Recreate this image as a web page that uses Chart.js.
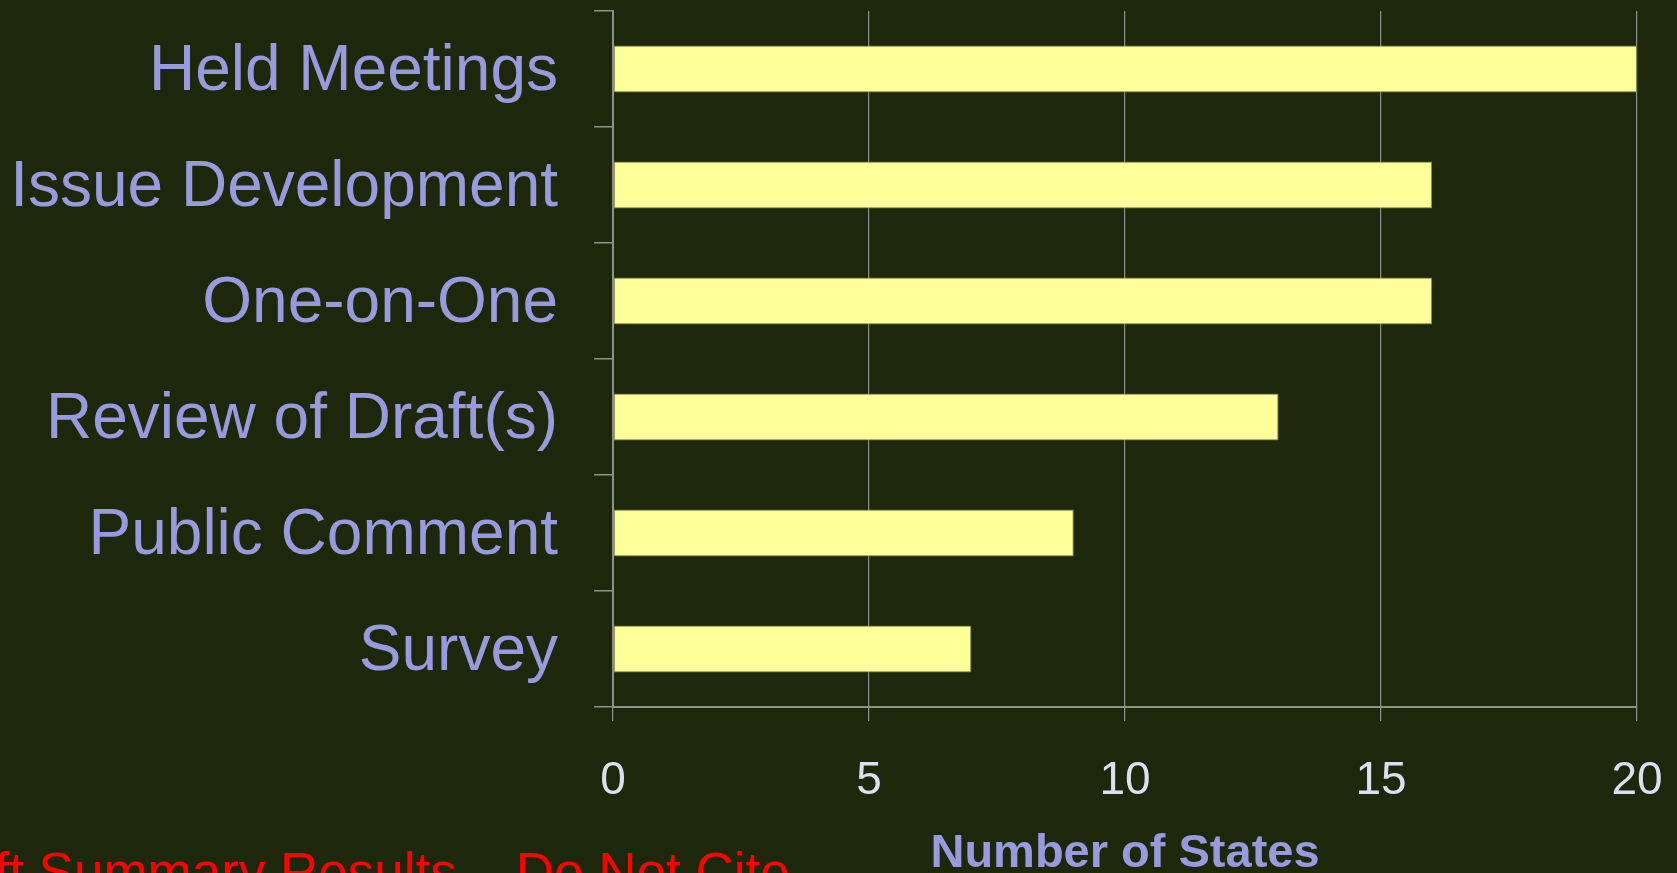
<!DOCTYPE html>
<html>
<head>
<meta charset="utf-8">
<script src="https://cdn.jsdelivr.net/npm/chart.js@4/dist/chart.umd.min.js"></script>
<style>
  html, body { margin: 0; padding: 0; background: #1c270b; overflow: hidden; }
  #wrap { position: relative; width: 1677px; height: 873px; }
  #note {
    position: absolute; left: -91px; top: 845px;
    font: 53px "Liberation Sans", Arial, sans-serif; line-height: 1;
    color: #ff0000; white-space: nowrap;
  }
</style>
</head>
<body>
<div id="wrap">
  <canvas id="myChart"></canvas>
  <div id="note">Draft Summary Results – Do Not Cite</div>
</div>
<script>
const categories = ['Held Meetings', 'Issue Development', 'One-on-One', 'Review of Draft(s)', 'Public Comment', 'Survey'];
const states = [20, 16, 16, 13, 9, 7];
const xTicks = [0, 5, 10, 15, 20];

const FONT = '"Liberation Sans", Arial, sans-serif';
const GRID = '#90908a';

const ctx = document.getElementById('myChart');

new Chart(ctx, {
  type: 'bar',
  data: {
    labels: categories,
    datasets: [{
      data: states,
      backgroundColor: '#ffff99',
      borderColor: '#84844c',
      borderWidth: 1,
      borderSkipped: false,
      categoryPercentage: 1,
      barPercentage: 0.405
    }]
  },
  options: {
    indexAxis: 'y',
    responsive: true,
    maintainAspectRatio: false,
    animation: false,
    layout: { padding: { top: 11, right: 40, bottom: 0, left: 0 } },
    plugins: {
      legend: { display: false },
      tooltip: { enabled: false }
    },
    scales: {
      y: {
        grid: {
          offset: true,
          drawOnChartArea: false,
          drawTicks: true,
          tickLength: 19,
          color: GRID,
          lineWidth: 1.5
        },
        border: { display: true, color: GRID, width: 2 },
        ticks: {
          color: '#9999dd',
          padding: 36,
          labelOffset: 3,
          font: { family: FONT, size: 64 }
        },
        afterFit: (scale) => {
          scale.width = 613;
          scale.paddingTop = 0;
          scale.paddingBottom = 0;
        }
      },
      x: {
        min: 0,
        max: 20,
        afterBuildTicks: (scale) => {
          scale.ticks = xTicks.map(v => ({ value: v }));
        },
        grid: {
          drawOnChartArea: true,
          drawTicks: true,
          tickLength: 14,
          color: GRID,
          lineWidth: 1.2
        },
        border: { display: true, color: GRID, width: 2 },
        ticks: {
          color: '#dcdff0',
          padding: 33,
          font: { family: FONT, size: 46 }
        },
        title: {
          display: true,
          text: 'Number of States',
          color: '#9999dd',
          font: { family: FONT, size: 47, weight: 'bold', lineHeight: 1 },
          padding: { top: 0, bottom: -5 }
        },
        afterFit: (scale) => {
          scale.height = 166;
          scale.paddingLeft = 0;
          scale.paddingRight = 0;
        }
      }
    }
  }
});
</script>
</body>
</html>
